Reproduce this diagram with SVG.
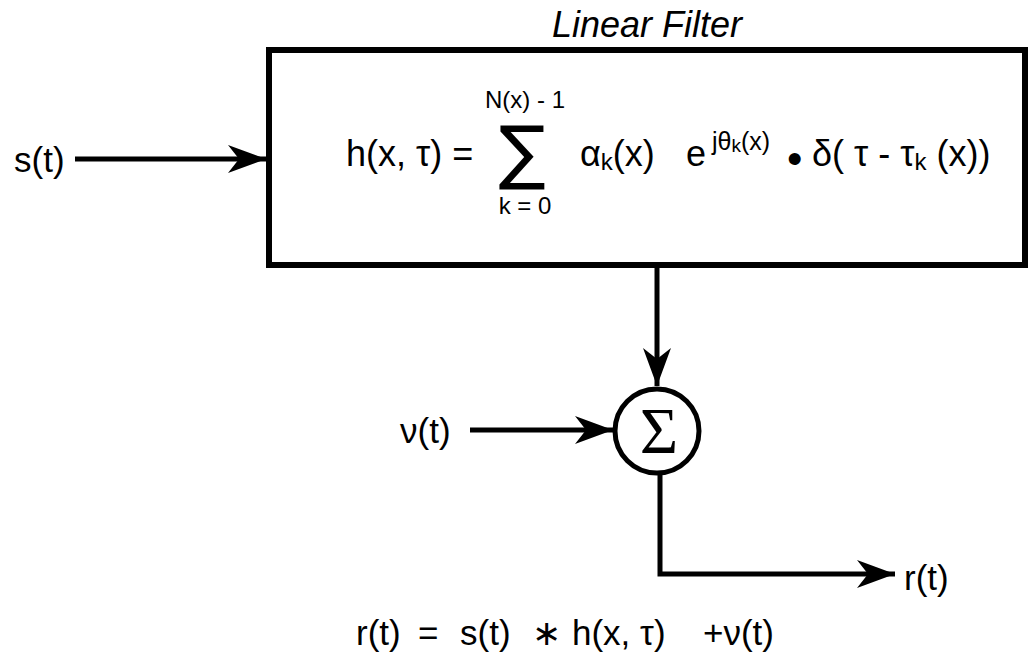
<svg xmlns="http://www.w3.org/2000/svg" width="1028" height="664" viewBox="0 0 1028 664">
<style>
text{font-family:"Liberation Sans",Arial,sans-serif;fill:#000}
.lbl{font-size:35px}
.f{font-size:36px}
.sm{font-size:24px}
.conn{fill:none;stroke:#000;stroke-width:5}
</style>
<defs>
<marker id="ah" markerUnits="userSpaceOnUse" markerWidth="42" markerHeight="32" viewBox="-40 -16 42 32" refX="0" refY="0" orient="auto">
<path d="M0,0 L-38,-14 L-27,0 L-38,14 Z" fill="#000"/>
</marker>
</defs>
<rect width="1028" height="664" fill="#fff"/>
<g id="filter">
<rect x="269" y="50" width="756" height="215" fill="none" stroke="#000" stroke-width="6"/>
<text x="552" y="37" style="font-size:36px;font-style:italic">Linear Filter</text>
<text class="f" x="346" y="166">h(x, τ) =</text>
<text x="522" y="176" text-anchor="middle" style="font-family:'DejaVu Sans',sans-serif;font-size:70px">∑</text>
<text class="sm" x="525" y="108" text-anchor="middle">N(x) - 1</text>
<text class="sm" x="525" y="214" text-anchor="middle">k = 0</text>
<text class="f" x="580" y="166">α<tspan class="sm" dy="4">k</tspan><tspan dy="-4">(x)</tspan></text>
<text class="f" x="686" y="166">e</text>
<text x="712" y="150" style="font-size:25px">jθ<tspan style="font-size:19px" dy="2">k</tspan><tspan dy="-2">(x)</tspan></text>
<text x="787" y="174" style="font-size:44px">•</text>
<text class="f" x="812" y="166">δ( τ - τ<tspan class="sm" dy="4">k</tspan><tspan dy="-4"> (x))</tspan></text>
</g>
<g id="source">
<text class="lbl" x="14" y="172">s(t)</text>
</g>
<g id="noise">
<text class="lbl" x="400" y="443">ν(t)</text>
</g>
<g id="sum">
<circle cx="657" cy="431" r="42" fill="#fff" stroke="#000" stroke-width="5"/>
<text x="659" y="453" text-anchor="middle" style="font-family:'Liberation Serif','Times New Roman',serif;font-size:66px">Σ</text>
</g>
<g id="output">
<text class="lbl" x="904" y="590">r(t)</text>
</g>
<g id="equation">
<text class="lbl" y="645"><tspan x="356">r(t)</tspan><tspan x="418">=</tspan><tspan x="460">s(t)</tspan><tspan x="532">∗</tspan><tspan x="572">h(x, τ)</tspan><tspan x="703">+ν(t)</tspan></text>
</g>
<g id="connectors">
<line class="conn" x1="75" y1="159" x2="266" y2="159" marker-end="url(#ah)"/>
<line class="conn" x1="657" y1="268" x2="657" y2="386" marker-end="url(#ah)"/>
<line class="conn" x1="470" y1="430" x2="613" y2="430" marker-end="url(#ah)"/>
<polyline class="conn" points="660,473 660,574 895,574" marker-end="url(#ah)"/>
</g>
</svg>
